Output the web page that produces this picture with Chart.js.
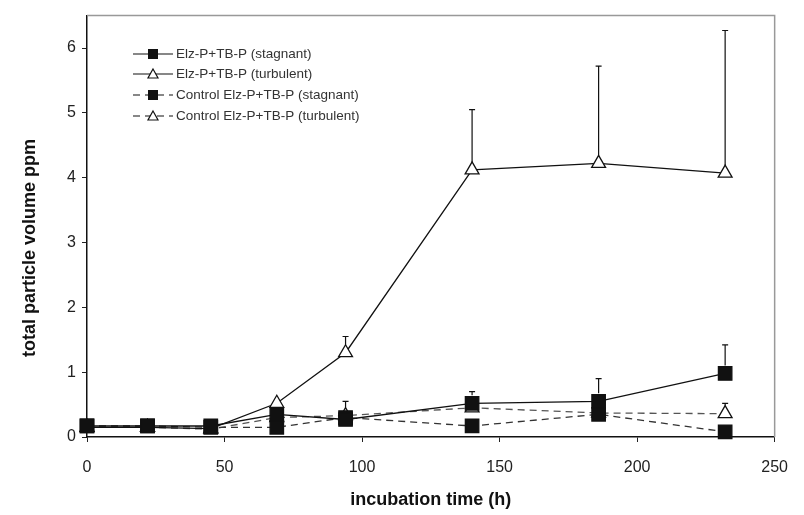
<!DOCTYPE html>
<html>
<head>
<meta charset="utf-8">
<script src="https://cdn.jsdelivr.net/npm/chart.js@4.4.0/dist/chart.umd.min.js"></script>
<style>
  body { margin: 0; background: #fff; }
  #wrap { width: 804px; height: 515px; }
</style>
</head>
<body>
<div id="wrap"><canvas id="chart"></canvas></div>
<script>
// --- data ---
const hours = [0, 22, 45, 69, 94, 140, 186, 232];

const elzStagnant = [0.17, 0.17, 0.17, 0.35, 0.27, 0.52, 0.55, 0.98];
const elzStagnantErr = [0, 0, 0, 0, 0, 0.18, 0.35, 0.44];

const elzTurbulent = [0.15, 0.15, 0.13, 0.52, 1.30, 4.12, 4.22, 4.07];
const elzTurbulentErr = [0, 0, 0, 0, 0.25, 0.93, 1.50, 2.20];

const ctrlStagnant = [0.17, 0.17, 0.15, 0.15, 0.30, 0.17, 0.35, 0.08];
const ctrlStagnantErr = [0, 0, 0, 0, 0, 0, 0, 0];

const ctrlTurbulent = [0.15, 0.15, 0.12, 0.30, 0.33, 0.45, 0.37, 0.36];
const ctrlTurbulentErr = [0, 0, 0, 0, 0.22, 0, 0, 0.16];

const seriesLabels = [
    "Elz-P+TB-P (stagnant)",
    "Elz-P+TB-P (turbulent)",
    "Control Elz-P+TB-P (stagnant)",
    "Control Elz-P+TB-P (turbulent)"
];

const toPoints = vals => vals.map((v, i) => ({ x: hours[i], y: v }));
const FONT = "Arial, 'Liberation Sans', sans-serif";

// Upward error bars with a small cap
const errorBars = {
    id: "errorBars",
    afterDatasetsDraw(chart) {
        const { ctx, scales: { x, y } } = chart;
        ctx.save();
        ctx.strokeStyle = "#111";
        ctx.lineWidth = 1.2;
        chart.data.datasets.forEach(ds => {
            (ds.errUp || []).forEach((e, i) => {
                if (!e) return;
                const px = x.getPixelForValue(ds.data[i].x);
                const py0 = y.getPixelForValue(ds.data[i].y);
                const py1 = y.getPixelForValue(ds.data[i].y + e);
                ctx.beginPath();
                ctx.moveTo(px, py0 - 8);
                ctx.lineTo(px, py1);
                ctx.moveTo(px - 3, py1);
                ctx.lineTo(px + 3, py1);
                ctx.stroke();
            });
        });
        ctx.restore();
    }
};

// Plot frame, y title and legend drawn inside the plot
const frameAndLegend = {
    id: "frameAndLegend",
    beforeDatasetsDraw(chart) {
        const { ctx, chartArea: a } = chart;
        ctx.save();
        ctx.strokeStyle = "#999";
        ctx.lineWidth = 1.5;
        ctx.beginPath();
        ctx.moveTo(a.left, a.top);
        ctx.lineTo(a.right, a.top);
        ctx.lineTo(a.right, a.bottom);
        ctx.stroke();

        // y axis title (sits a bit below the axis centre in the original)
        ctx.translate(30, 248);
        ctx.rotate(-Math.PI / 2);
        ctx.font = "bold 18px " + FONT;
        ctx.fillStyle = "#111";
        ctx.textAlign = "center";
        ctx.textBaseline = "middle";
        ctx.fillText("total particle volume ppm", 0, 0);
        ctx.restore();
    },
    afterDraw(chart) {
        const { ctx } = chart;
        const rowsY = [54, 74, 95, 116];
        ctx.save();
        ctx.font = "13.5px " + FONT;
        ctx.textBaseline = "middle";
        chart.data.datasets.forEach((ds, i) => {
            const y = rowsY[i];
            ctx.strokeStyle = "#111";
            ctx.lineWidth = 1.2;
            ctx.setLineDash(ds.borderDash || []);
            ctx.beginPath();
            ctx.moveTo(133, y);
            ctx.lineTo(173, y);
            ctx.stroke();
            ctx.setLineDash([]);
            if (ds.pointStyle === "rect") {
                ctx.fillStyle = "#111";
                ctx.fillRect(148, y - 5, 10, 10);
            } else {
                ctx.fillStyle = "#fff";
                ctx.beginPath();
                ctx.moveTo(153, y - 5);
                ctx.lineTo(158, y + 4);
                ctx.lineTo(148, y + 4);
                ctx.closePath();
                ctx.fill();
                ctx.stroke();
            }
            ctx.fillStyle = "#333";
            ctx.fillText(ds.label, 176, y);
        });
        ctx.restore();
    }
};

const ctx = document.getElementById("chart");
new Chart(ctx, {
    type: "line",
    data: {
        datasets: [
            {
                label: seriesLabels[0], data: toPoints(elzStagnant), errUp: elzStagnantErr,
                borderColor: "#111", borderWidth: 1.3, pointStyle: "rect", pointRadius: 9.5,
                pointBackgroundColor: "#111", pointBorderColor: "#111", clip: false
            },
            {
                label: seriesLabels[1], data: toPoints(elzTurbulent), errUp: elzTurbulentErr,
                borderColor: "#111", borderWidth: 1.3, pointStyle: "triangle", pointRadius: 8,
                pointBackgroundColor: "#fff", pointBorderColor: "#111", pointBorderWidth: 1.3, clip: false
            },
            {
                label: seriesLabels[2], data: toPoints(ctrlStagnant), errUp: ctrlStagnantErr,
                borderColor: "#333", borderWidth: 1.3, borderDash: [7, 5], pointStyle: "rect", pointRadius: 9.5,
                pointBackgroundColor: "#111", pointBorderColor: "#111", clip: false
            },
            {
                label: seriesLabels[3], data: toPoints(ctrlTurbulent), errUp: ctrlTurbulentErr,
                borderColor: "#555", borderWidth: 1.3, borderDash: [7, 5], pointStyle: "triangle", pointRadius: 8,
                pointBackgroundColor: "#fff", pointBorderColor: "#111", pointBorderWidth: 1.3, clip: false
            }
        ]
    },
    options: {
        responsive: true,
        maintainAspectRatio: false,
        animation: false,
        layout: { padding: { top: 14, right: 29, left: 0, bottom: 0 } },
        plugins: { legend: { display: false }, tooltip: { enabled: false } },
        scales: {
            x: {
                type: "linear", min: 0, max: 250,
                ticks: { stepSize: 50, color: "#222", font: { size: 16, family: FONT }, padding: 16 },
                grid: { drawOnChartArea: false, tickLength: 5, color: "#222" },
                border: { color: "#111", width: 1.5 },
                title: { display: true, text: "incubation time (h)", color: "#111",
                         font: { size: 18, weight: "bold", family: FONT } },
                afterFit: s => { s.height = 78; }
            },
            y: {
                min: 0, max: 6.5,
                afterBuildTicks: s => { s.ticks = s.ticks.filter(t => Number.isInteger(t.value)); },
                ticks: { stepSize: 1, color: "#222", font: { size: 16, family: FONT }, padding: 6 },
                grid: { drawOnChartArea: false, tickLength: 5, color: "#222" },
                border: { color: "#111", width: 1.5 },
                afterFit: s => { s.width = 87; }
            }
        }
    },
    plugins: [frameAndLegend, errorBars]
});
</script>
</body>
</html>
